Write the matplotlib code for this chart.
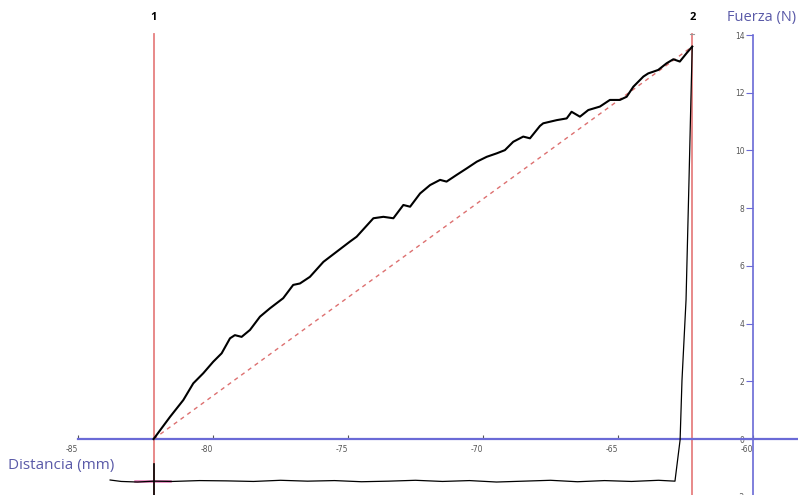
import matplotlib

matplotlib.use("Agg")
import matplotlib.pyplot as plt

# ciclo de carga: recorrido de ida (fuerza creciente) entre los cursores 1 y 2
ida_x = [-82.2, -81.59, -81.1, -80.73, -80.36, -79.99, -79.68, -79.37, -79.19,
         -78.94, -78.63, -78.26, -77.89, -77.4, -77.03, -76.78, -76.41, -75.91,
         -75.42, -74.93, -74.68, -74.06, -73.69, -73.32, -72.95, -72.7, -72.33,
         -71.96, -71.59, -71.35, -70.98, -70.6, -70.23, -69.86, -69.49, -69.19,
         -68.88, -68.51, -68.26, -67.89, -67.77, -67.27, -66.9, -66.72, -66.41,
         -66.1, -65.67, -65.3, -64.93, -64.68, -64.43, -64.06, -63.88, -63.69,
         -63.51, -63.2, -62.95, -62.71, -62.46, -62.25]
ida_y = [0.0, 0.77, 1.35, 1.93, 2.28, 2.68, 2.97, 3.49, 3.6, 3.54, 3.78, 4.24,
         4.53, 4.88, 5.34, 5.39, 5.62, 6.14, 6.49, 6.84, 7.01, 7.65, 7.7, 7.65,
         8.11, 8.05, 8.51, 8.8, 8.98, 8.92, 9.15, 9.38, 9.61, 9.78, 9.9, 10.01,
         10.3, 10.48, 10.42, 10.85, 10.94, 11.05, 11.11, 11.34, 11.17, 11.4,
         11.52, 11.75, 11.75, 11.86, 12.21, 12.56, 12.67, 12.73, 12.79, 13.02,
         13.16, 13.08, 13.37, 13.6]

# descarga y regreso
vuelta_x = [-62.25, -62.3, -62.37, -62.48, -62.63, -62.7, -62.89, -63.5, -64.5,
            -65.5, -66.5, -67.5, -68.5, -69.5, -70.5, -71.5, -72.5, -73.5,
            -74.5, -75.5, -76.5, -77.5, -78.5, -79.5, -80.5, -81.5, -82.2,
            -82.8, -83.4, -83.81]
vuelta_y = [13.6, 11.75, 8.98, 4.82, 2.04, -0.03, -1.46, -1.43, -1.47, -1.44,
            -1.48, -1.43, -1.46, -1.49, -1.44, -1.47, -1.43, -1.46, -1.48,
            -1.44, -1.46, -1.43, -1.47, -1.45, -1.44, -1.47, -1.46, -1.49,
            -1.47, -1.42]

cursores = [-82.2, -62.25]
cursor_tags = ["1", "2"]
xticks = [-85, -80, -75, -70, -65, -60]
yticks = [-2, 0, 2, 4, 6, 8, 10, 12, 14]

AXIS = "#6a6ad6"
LABEL = "#5a5aa8"
RED = "#e68080"

fig = plt.figure(figsize=(7.98, 4.95), dpi=100)
ax = fig.add_axes([0, -10.4 / 495, 1, 505.4 / 495])
ax.set_xlim(-85 - 78 / 27, -85 + 720 / 27)
ax.set_ylim(-2.3, 439 / 28.857)

for s in ["top", "right"]:
    ax.spines[s].set_visible(False)
ax.spines["left"].set_position(("data", -60))
ax.spines["bottom"].set_position(("data", 0))
ax.spines["left"].set_bounds(-2.3, 14)
ax.spines["bottom"].set_bounds(-85, -58.3)
ax.spines["left"].set_color(AXIS)
ax.spines["bottom"].set_color(AXIS)
ax.spines["left"].set_linewidth(1.2)
ax.spines["bottom"].set_linewidth(1.6)
ax.set_xticks(xticks)
ax.set_yticks(yticks)
ax.set_xticklabels([str(t) for t in xticks], ha="right")
ax.tick_params(axis="x", direction="in", length=3, width=0.8, color="#555555",
               labelsize=5.5, labelcolor="#555555", pad=4)
ax.tick_params(axis="y", direction="out", length=5, width=0.8, color=AXIS,
               labelsize=5.5, labelcolor="#555555", pad=1)

# cursores verticales
for xc, tag in zip(cursores, cursor_tags):
    ax.plot([xc, xc], [-2.3, 14.05], color=RED, lw=1.3, zorder=2)
    ax.text(xc, 14.6, tag, ha="center", va="center", fontsize=8,
            fontweight="bold", color="black", family="Open Sans")
ax.plot([cursores[1] - 0.08, cursores[1] + 0.08], [14.05, 14.05],
        color="#999999", lw=0.8)

# recta entre cursores
ax.plot([ida_x[0], ida_x[-1]], [ida_y[0], ida_y[-1]], color="#dd7070",
        lw=1.0, ls=(0, (3, 3)), zorder=3)

ax.plot(ida_x, ida_y, color="black", lw=1.5, zorder=4)
ax.plot(vuelta_x, vuelta_y, color="black", lw=0.9, zorder=4)
ax.plot([cursores[0], cursores[0]], [-0.85, -2.3], color="black", lw=1.2,
        zorder=4)
ax.plot([-82.9, -81.6], [-1.46, -1.46], color="#e070b0", lw=1.8, zorder=3)

fig.text(762 / 798, 1 - 17 / 495, "Fuerza (N)", ha="center", va="center",
         fontsize=10.5, color=LABEL, family="Open Sans")
fig.text(8 / 798, 1 - 466 / 495, "Distancia (mm)", ha="left", va="center",
         fontsize=11, color=LABEL, family="Open Sans")

fig.savefig("out.png", dpi=100)
